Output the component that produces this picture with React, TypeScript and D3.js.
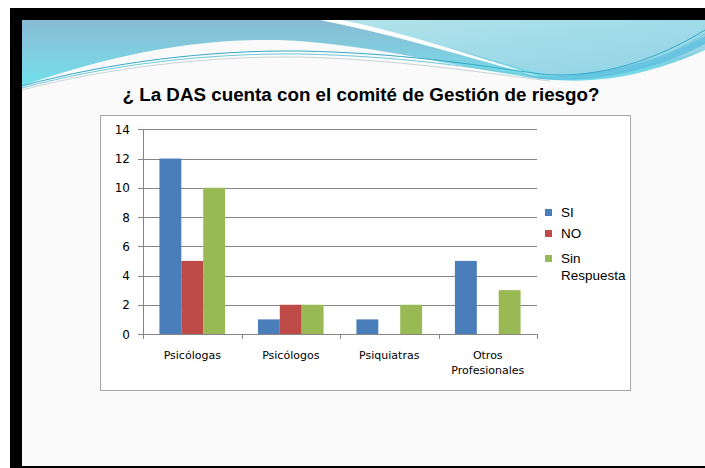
import React from "react";
import * as d3 from "d3";

const categories = ["Psicólogas", "Psicólogos", "Psiquiatras", "Otros Profesionales"];
const seriesNames = ["SI", "NO", "Sin Respuesta"];
const siValues = [12, 1, 1, 5];
const noValues = [5, 2, 0, 0];
const sinRespuestaValues = [10, 2, 2, 3];
const yTicks = [0, 2, 4, 6, 8, 10, 12, 14];
const colors = ["#4a7ebb", "#be4b48", "#98b954"];
const title = "¿ La DAS cuenta con el comité de Gestión de riesgo?";

const W = 705;
const H = 468;

export default function App() {
  const plot = { left: 143, right: 537, top: 129.3, bottom: 334 };
  const x = d3.scaleBand<string>().domain(categories).range([plot.left, plot.right]).padding(0);
  const inner = d3
    .scaleBand<string>()
    .domain(seriesNames)
    .range([0, x.bandwidth()])
    .paddingInner(0)
    .paddingOuter(0.75);
  const y = d3.scaleLinear().domain([0, 14]).range([plot.bottom, plot.top]);
  const seriesValues = [siValues, noValues, sinRespuestaValues];

  const labelLines = (c: string) => (c === "Otros Profesionales" ? ["Otros", "Profesionales"] : [c]);
  const boundaries = [...categories.map((c) => x(c)!), plot.right];

  return (
    <svg
      width={W}
      height={H}
      style={{ position: "absolute", left: 0, top: 0, display: "block" }}
      xmlns="http://www.w3.org/2000/svg"
    >
      <defs>
        <linearGradient id="hdrA" x1="0" y1="0" x2="0" y2="1">
          <stop offset="0" stopColor="#87bcd3" />
          <stop offset="0.55" stopColor="#7fcfe0" />
          <stop offset="1" stopColor="#6fe0ea" />
        </linearGradient>
        <linearGradient id="hdrB" x1="0" y1="0" x2="1" y2="1">
          <stop offset="0" stopColor="#b2e3ea" />
          <stop offset="1" stopColor="#8fd3e6" />
        </linearGradient>
      </defs>
      {/* page */}
      <rect x={0} y={0} width={W} height={H} fill="#ffffff" />
      {/* black frame */}
      <rect x={10} y={8} width={W - 10} height={H - 8} fill="#000000" />
      {/* slide */}
      <rect x={22} y={20} width={W - 22} height={446} fill="#fafafa" />

      {/* header waves */}
      <path
        d="M22,20 H705 V50 C660,70 610,84 555,80 C470,72 380,44 280,40 C180,38 90,62 22,86 Z"
        fill="url(#hdrA)"
      />
      <path
        d="M335,20 H705 V50 C665,62 610,74 548,76 C480,56 410,36 335,20 Z"
        fill="url(#hdrB)"
      />
      <path d="M320,20 C400,36 470,58 548,79 C480,58 410,34 342,20 Z" fill="#ffffff" />
      <path
        d="M520,76 C600,80 660,60 705,36 L705,44 C660,68 600,84 540,79 Z"
        fill="#5cbfe0"
        opacity={0.8}
      />
      <path
        d="M22,86 C110,62 210,50 300,51 C400,53 470,64 540,74 C600,80 660,58 705,30"
        fill="none"
        stroke="#35a9c8"
        strokeWidth={1}
      />
      <path
        d="M22,88 C110,64 210,53 300,54 C400,56 470,67 540,77 C600,83 660,62 705,34"
        fill="none"
        stroke="#6fc9dc"
        strokeWidth={1}
      />
      <path
        d="M22,90 C110,67 210,56 300,57 C400,60 470,71 550,81"
        fill="none"
        stroke="#c9d3d6"
        strokeWidth={1}
      />

      {/* title */}
      <text
        x={361}
        y={101}
        textAnchor="middle"
        fontFamily="'Liberation Sans', Arial, sans-serif"
        fontWeight="bold"
        fontSize={18.8}
        fill="#000000"
      >
        {title}
      </text>

      {/* chart box */}
      <rect x={100.5} y={115.5} width={530} height={275} fill="#ffffff" stroke="#a6a6a6" strokeWidth={1} />

      {/* gridlines & y ticks */}
      {yTicks.map((t) => (
        <g key={t}>
          <line
            x1={plot.left - 5}
            x2={plot.right}
            y1={Math.round(y(t)) + 0.5}
            y2={Math.round(y(t)) + 0.5}
            stroke="#868686"
            strokeWidth={1}
          />
          <text
            x={130}
            y={y(t) + 4.5}
            textAnchor="end"
            fontFamily="'DejaVu Sans', Verdana, sans-serif"
            fontSize={12}
            fill="#000000"
          >
            {t}
          </text>
        </g>
      ))}
      {/* y axis line */}
      <line
        x1={plot.left + 0.5}
        x2={plot.left + 0.5}
        y1={y(14)}
        y2={plot.bottom}
        stroke="#868686"
        strokeWidth={1}
      />

      {/* bars */}
      {categories.map((c, ci) =>
        seriesNames.map((s, si) => {
          const v = seriesValues[si][ci];
          if (!v) return null;
          return (
            <rect
              key={c + s}
              x={x(c)! + inner(s)!}
              y={y(v)}
              width={inner.bandwidth()}
              height={y(0) - y(v)}
              fill={colors[si]}
            />
          );
        })
      )}

      {/* x axis */}
      <line
        x1={plot.left}
        x2={plot.right}
        y1={Math.round(y(0)) + 0.5}
        y2={Math.round(y(0)) + 0.5}
        stroke="#868686"
        strokeWidth={1}
      />
      {boundaries.map((b, i) => (
        <line
          key={i}
          x1={Math.round(b) + 0.5}
          x2={Math.round(b) + 0.5}
          y1={plot.bottom}
          y2={plot.bottom + 5}
          stroke="#868686"
          strokeWidth={1}
        />
      ))}
      {categories.map((c) =>
        labelLines(c).map((line, li) => (
          <text
            key={c + li}
            x={x(c)! + x.bandwidth() / 2}
            y={359 + li * 15}
            textAnchor="middle"
            fontFamily="'DejaVu Sans', Verdana, sans-serif"
            fontSize={11}
            fill="#000000"
          >
            {line}
          </text>
        ))
      )}

      {/* legend */}
      {seriesNames.map((s, i) => {
        const top = [209, 230, 255][i];
        const lines = s === "Sin Respuesta" ? ["Sin", "Respuesta"] : [s];
        return (
          <g key={s}>
            <rect x={545} y={top} width={7} height={7} fill={colors[i]} />
            {lines.map((ln, li) => (
              <text
                key={li}
                x={561}
                y={top + 8 + li * 17}
                fontFamily="'Liberation Sans', Arial, sans-serif"
                fontSize={13.5}
                fill="#000000"
              >
                {ln}
              </text>
            ))}
          </g>
        );
      })}
    </svg>
  );
}
